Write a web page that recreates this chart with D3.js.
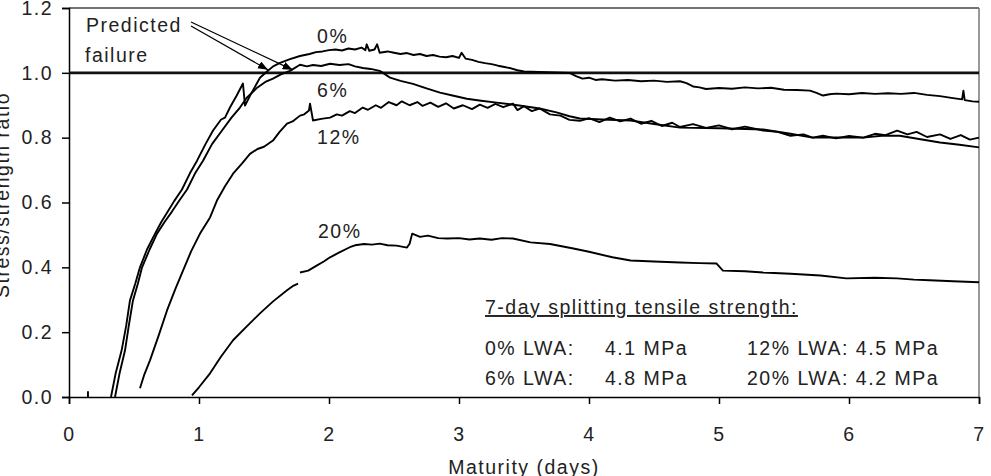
<!DOCTYPE html>
<html>
<head>
<meta charset="utf-8">
<script src="https://cdn.jsdelivr.net/npm/d3@7"></script>
<style>
  body { margin: 0; background: #fff; }
  svg { display: block; font-family: "Liberation Sans", Arial, sans-serif; }
  text { font-size: 19.5px; letter-spacing: 1.5px; fill: #222; }
</style>
</head>
<body>
<div id="chart"></div>
<script>
// stress/strength ratio vs maturity
var xTicks = [0, 1, 2, 3, 4, 5, 6, 7];
var yTicks = [0, 0.2, 0.4, 0.6, 0.8, 1.0, 1.2];

var lwa0 = [
  [0.323, 0], [0.36, 0.075], [0.405, 0.144], [0.44, 0.22], [0.469, 0.298], [0.51, 0.35],
  [0.546, 0.40], [0.60, 0.455], [0.662, 0.504], [0.71, 0.54], [0.76, 0.572], [0.81, 0.605],
  [0.869, 0.640], [0.93, 0.69], [0.985, 0.729], [1.05, 0.78], [1.108, 0.822],
  [1.17, 0.856], [1.20, 0.862], [1.238, 0.893], [1.29, 0.93], [1.338, 0.967],
  [1.354, 0.899], [1.40, 0.935], [1.469, 0.985], [1.523, 1.004], [1.57, 1.02], [1.623, 1.031],
  [1.70, 1.042], [1.777, 1.052], [1.85, 1.058], [1.9, 1.064], [1.95, 1.066], [2.0, 1.07],
  [2.05, 1.072], [2.1, 1.069], [2.15, 1.075], [2.2, 1.072], [2.25, 1.078], [2.28, 1.07],
  [2.29, 1.088], [2.31, 1.068], [2.35, 1.072], [2.37, 1.088], [2.39, 1.062], [2.45, 1.066],
  [2.5, 1.062], [2.55, 1.058], [2.6, 1.061], [2.65, 1.055], [2.7, 1.058], [2.75, 1.052],
  [2.8, 1.055], [2.85, 1.05], [2.9, 1.048], [2.95, 1.052], [3.0, 1.046], [3.02, 1.062],
  [3.05, 1.044], [3.1, 1.04], [3.15, 1.034], [3.2, 1.03], [3.25, 1.027], [3.3, 1.022],
  [3.35, 1.018], [3.4, 1.014], [3.45, 1.008], [3.5, 1.004], [3.85, 1.0], [3.9, 0.99],
  [3.95, 0.982], [4.0, 0.985], [4.05, 0.978], [4.1, 0.98], [4.2, 0.976], [4.3, 0.978],
  [4.4, 0.974], [4.5, 0.976], [4.6, 0.972], [4.7, 0.974], [4.75, 0.968], [4.8, 0.958],
  [4.85, 0.955], [4.9, 0.95], [5.0, 0.953], [5.1, 0.951], [5.2, 0.955], [5.3, 0.952],
  [5.4, 0.954], [5.5, 0.948], [5.6, 0.947], [5.7, 0.945], [5.75, 0.938], [5.8, 0.93],
  [5.85, 0.934], [5.9, 0.936], [6.0, 0.934], [6.1, 0.938], [6.2, 0.935], [6.3, 0.937],
  [6.4, 0.935], [6.5, 0.938], [6.6, 0.932], [6.7, 0.928], [6.8, 0.922], [6.87, 0.918],
  [6.88, 0.945], [6.89, 0.916], [6.95, 0.912], [7.0, 0.911]
];

var lwa6 = [
  [0.354, 0], [0.39, 0.075], [0.431, 0.144], [0.46, 0.22], [0.492, 0.298], [0.53, 0.35],
  [0.562, 0.40], [0.62, 0.455], [0.677, 0.504], [0.735, 0.54], [0.792, 0.572], [0.85, 0.607],
  [0.908, 0.640], [0.97, 0.69], [1.031, 0.729], [1.10, 0.78], [1.177, 0.822],
  [1.25, 0.862], [1.315, 0.893], [1.369, 0.924], [1.45, 0.955], [1.51, 0.972], [1.569, 0.982],
  [1.63, 0.995], [1.70, 1.006], [1.777, 1.025], [1.83, 1.02], [1.877, 1.024], [1.94, 1.021],
  [2.008, 1.028], [2.08, 1.024], [2.15, 1.027], [2.2, 1.02], [2.26, 1.015], [2.32, 1.012],
  [2.39, 1.006], [2.43, 0.996], [2.47, 0.985], [2.55, 0.975], [2.646, 0.966], [2.75, 0.952],
  [2.854, 0.939], [2.95, 0.93], [3.06, 0.92], [3.17, 0.914], [3.29, 0.908], [3.45, 0.9],
  [3.62, 0.89], [3.75, 0.878], [3.85, 0.866], [3.93, 0.859], [4.1, 0.856], [4.32, 0.853],
  [4.5, 0.842], [4.70, 0.831], [5.0, 0.829], [5.34, 0.825], [5.55, 0.812], [5.72, 0.80],
  [5.9, 0.801], [6.11, 0.80], [6.25, 0.806], [6.39, 0.806], [6.55, 0.795], [6.70, 0.785],
  [6.85, 0.778], [7.0, 0.77]
];

var lwa12 = [
  [0.546, 0.027], [0.58, 0.07], [0.623, 0.113], [0.69, 0.19], [0.754, 0.267], [0.82, 0.335],
  [0.877, 0.39], [0.94, 0.45], [1.008, 0.504], [1.085, 0.554], [1.138, 0.606], [1.20, 0.65],
  [1.262, 0.689], [1.33, 0.72], [1.392, 0.75], [1.45, 0.765], [1.50, 0.772], [1.569, 0.791],
  [1.62, 0.818], [1.677, 0.843], [1.72, 0.85], [1.777, 0.868], [1.81, 0.872], [1.846, 0.884],
  [1.854, 0.905], [1.877, 0.853], [1.94, 0.858], [2.008, 0.862], [2.06, 0.872], [2.1, 0.868],
  [2.16, 0.882], [2.2, 0.876], [2.26, 0.893], [2.3, 0.886], [2.36, 0.9], [2.4, 0.892],
  [2.46, 0.91], [2.52, 0.9], [2.56, 0.912], [2.62, 0.9], [2.68, 0.91], [2.72, 0.898],
  [2.78, 0.908], [2.84, 0.895], [2.9, 0.906], [2.96, 0.89], [3.03, 0.9], [3.1, 0.888],
  [3.16, 0.902], [3.22, 0.892], [3.28, 0.904], [3.34, 0.894], [3.415, 0.905], [3.45, 0.885],
  [3.5, 0.897], [3.56, 0.882], [3.62, 0.89], [3.7, 0.872], [3.78, 0.868], [3.85, 0.855],
  [3.93, 0.852], [4.0, 0.86], [4.08, 0.848], [4.16, 0.862], [4.24, 0.85], [4.32, 0.859],
  [4.4, 0.843], [4.48, 0.852], [4.56, 0.836], [4.64, 0.846], [4.70, 0.833], [4.8, 0.842],
  [4.9, 0.83], [5.0, 0.838], [5.1, 0.826], [5.2, 0.834], [5.34, 0.822], [5.45, 0.818],
  [5.55, 0.806], [5.65, 0.81], [5.72, 0.8], [5.8, 0.806], [5.9, 0.798], [6.0, 0.805],
  [6.11, 0.8], [6.2, 0.812], [6.28, 0.808], [6.37, 0.822], [6.45, 0.81], [6.52, 0.818],
  [6.6, 0.802], [6.70, 0.81], [6.78, 0.796], [6.86, 0.808], [6.93, 0.794], [7.0, 0.80]
];

var lwa20 = [
  [0.946, 0.005], [1.0, 0.03], [1.085, 0.073], [1.17, 0.125], [1.262, 0.175], [1.36, 0.215],
  [1.469, 0.258], [1.57, 0.295], [1.677, 0.329], [1.72, 0.342], [1.762, 0.35],
  null,
  [1.777, 0.384], [1.84, 0.39], [1.908, 0.406], [1.96, 0.418], [2.008, 0.431], [2.08, 0.446],
  [2.16, 0.462], [2.2, 0.468], [2.27, 0.472], [2.33, 0.47], [2.39, 0.473], [2.45, 0.468],
  [2.52, 0.467], [2.6, 0.461], [2.62, 0.473], [2.64, 0.504], [2.7, 0.494], [2.76, 0.498],
  [2.84, 0.49], [2.91, 0.489], [3.0, 0.49], [3.08, 0.486], [3.16, 0.489], [3.25, 0.485],
  [3.33, 0.49], [3.415, 0.489], [3.55, 0.477], [3.7, 0.472], [3.88, 0.458], [4.0, 0.448],
  [4.18, 0.431], [4.32, 0.421], [4.5, 0.418], [4.70, 0.415], [4.85, 0.413], [4.98, 0.412],
  [5.03, 0.39], [5.2, 0.388], [5.34, 0.384], [5.55, 0.38], [5.78, 0.375], [5.98, 0.366],
  [6.2, 0.368], [6.37, 0.366], [6.5, 0.362], [6.62, 0.36], [6.8, 0.357], [7.0, 0.354]
];

var stub = [[0.146, 0], [0.146, 0.018]];

var curveNames = ["0%", "6%", "12%", "20%"];
var labelAt = [[1.908, 1.093], [1.908, 0.924], [1.908, 0.782], [1.915, 0.489]];
var failureAt = [[1.53, 1.0], [1.72, 1.0]];

var legendTitle = "7-day splitting tensile strength:";
var legendRows = [
  ["0% LWA:", "4.1 MPa", "12% LWA: 4.5 MPa"],
  ["6% LWA:", "4.8 MPa", "20% LWA: 4.2 MPa"]
];

var margin = { top: 8, left: 69, right: 12, bottom: 79 },
  width = 991 - margin.left - margin.right,
  height = 476 - margin.top - margin.bottom;

var svg = d3.select("#chart")
  .append("svg")
  .attr("width", 991)
  .attr("height", 476);

var g = svg.append("g")
  .attr("transform", "translate(" + margin.left + "," + margin.top + ")");

var x = d3.scaleLinear().domain([0, 7]).range([0, width]);
var y = d3.scaleLinear().domain([0, 1.2]).range([height, 0]);

// frame: top and right in grey
g.append("line").attr("x1", 0).attr("x2", width).attr("y1", 0).attr("y2", 0)
  .attr("stroke", "#444").attr("stroke-width", 1.5);
g.append("line").attr("x1", width).attr("x2", width).attr("y1", 0).attr("y2", height)
  .attr("stroke", "#777").attr("stroke-width", 1.5);

var xAxis = d3.axisBottom(x).tickValues(xTicks).tickSize(7).tickPadding(23)
  .tickFormat(d3.format("d"));
var yAxis = d3.axisLeft(y).tickValues(yTicks).tickSize(7).tickPadding(9)
  .tickFormat(d3.format(".1f"));

var gx = g.append("g")
  .attr("transform", "translate(0," + height + ")")
  .call(xAxis);
var gy = g.append("g").call(yAxis);

[gx, gy].forEach(function(a) {
  a.select(".domain").attr("stroke", "#000").attr("stroke-width", 1.5);
  a.selectAll(".tick line").attr("stroke", "#000").attr("stroke-width", 1.5);
  a.selectAll(".tick text").attr("font-size", null).attr("font-family", null).attr("fill", "#222");
});

// ratio = 1.0 line
g.append("line")
  .attr("x1", 0).attr("x2", width)
  .attr("y1", y(1.0)).attr("y2", y(1.0))
  .attr("stroke", "#111").attr("stroke-width", 2.6);

var line = d3.line()
  .defined(function(d) { return d !== null; })
  .x(function(d) { return x(d[0]); })
  .y(function(d) { return y(d[1]); });

g.selectAll("path.curve")
  .data([lwa0, lwa6, lwa12, lwa20, stub])
  .enter()
  .append("path")
  .attr("class", "curve")
  .attr("d", line)
  .attr("fill", "none")
  .attr("stroke", "#000")
  .attr("stroke-width", 1.9)
  .attr("stroke-linejoin", "round");

g.selectAll("text.curve-label")
  .data(curveNames)
  .enter()
  .append("text")
  .attr("class", "curve-label")
  .attr("x", function(d, i) { return x(labelAt[i][0]); })
  .attr("y", function(d, i) { return y(labelAt[i][1]); })
  .text(function(d) { return d; });

// predicted failure annotation
svg.append("defs").append("marker")
  .attr("id", "arrow")
  .attr("viewBox", "0 0 10 8")
  .attr("refX", 10).attr("refY", 4)
  .attr("markerWidth", 10).attr("markerHeight", 8)
  .attr("markerUnits", "userSpaceOnUse")
  .attr("orient", "auto")
  .append("path").attr("d", "M0,0L10,4L0,8z").attr("fill", "#000");

g.append("text").attr("x", 17).attr("y", 24).text("Predicted");
g.append("text").attr("x", 16).attr("y", 54).text("failure");

var starts = [[122, 18], [122, 14]];
g.selectAll("line.arrow")
  .data(failureAt)
  .enter()
  .append("line")
  .attr("class", "arrow")
  .attr("x1", function(d, i) { return starts[i][0]; })
  .attr("y1", function(d, i) { return starts[i][1]; })
  .attr("x2", function(d) { return x(d[0]); })
  .attr("y2", function(d) { return y(d[1]) - 3; })
  .attr("stroke", "#000").attr("stroke-width", 1.2)
  .attr("marker-end", "url(#arrow)");

// legend text block
g.append("text").attr("x", 416).attr("y", 306)
  .style("text-decoration", "underline")
  .text(legendTitle);

legendRows.forEach(function(r, i) {
  var yy = 347 + i * 30;
  g.append("text").attr("x", 416).attr("y", yy).text(r[0]);
  g.append("text").attr("x", 536).attr("y", yy).text(r[1]);
  g.append("text").attr("x", 678).attr("y", yy).text(r[2]);
});

// axis titles
svg.append("text")
  .attr("x", margin.left + width / 2)
  .attr("y", 474)
  .attr("text-anchor", "middle")
  .text("Maturity (days)");

svg.append("text")
  .attr("transform", "translate(9,195) rotate(-90)")
  .attr("text-anchor", "middle")
  .text("Stress/strength ratio");
</script>
</body>
</html>
